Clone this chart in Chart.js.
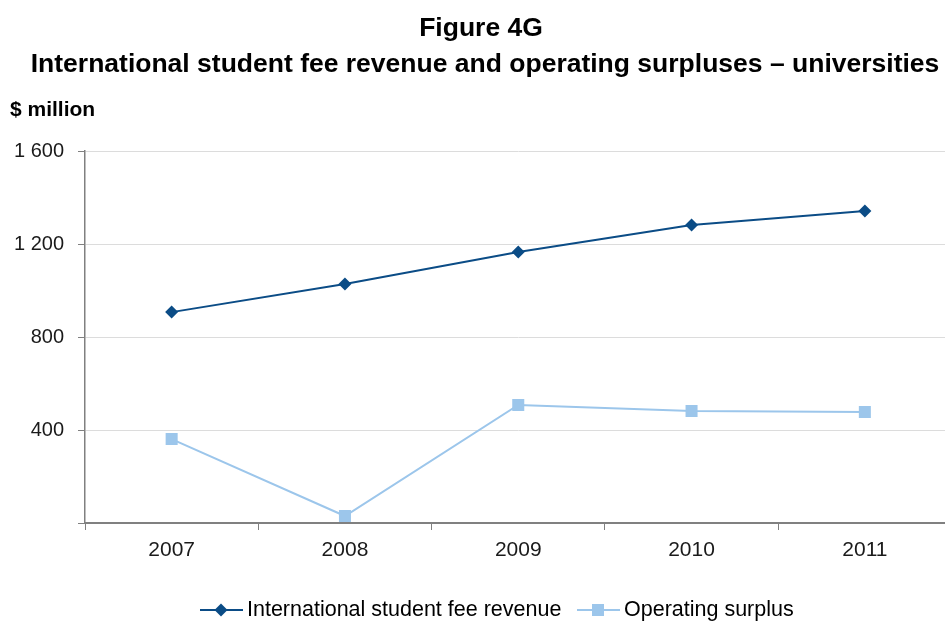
<!DOCTYPE html>
<html>
<head>
<meta charset="utf-8">
<script src="https://cdn.jsdelivr.net/npm/chart.js@4.4.1/dist/chart.umd.min.js"></script>
<style>
    html, body { margin: 0; padding: 0; background: #ffffff; overflow: hidden; }
    #wrap { width: 960px; height: 621px; }
</style>
</head>
<body>
<div id="wrap"><canvas id="myChart" width="960" height="621"></canvas></div>
<script>
const years = ['2007', '2008', '2009', '2010', '2011'];
const feeRevenue = [907, 1028, 1166, 1282, 1342];
const operatingSurplus = [361, 30, 508, 482, 477];
const yTicks = [0, 400, 800, 1200, 1600];

const titleLines = ['Figure 4G', 'International student fee revenue and operating surpluses \u2013 universities'];
const unitLabel = '$ million';
const fontFamily = '"Liberation Sans", Arial, sans-serif';

const darkBlue = '#0b4c86';
const lightBlue = '#9cc6eb';

// titles, unit label and the line+marker legend along the bottom
const headerAndLegend = {
    id: 'headerAndLegend',
    afterDraw(chart) {
        let ctx = chart.ctx;
        ctx.save();
        ctx.fillStyle = '#000000';
        ctx.textAlign = 'center';
        ctx.textBaseline = 'middle';
        ctx.font = `bold 26.5px ${fontFamily}`;
        ctx.fillText(titleLines[0], 481, 29);
        ctx.fillText(titleLines[1], 485, 65);

        ctx.textAlign = 'left';
        ctx.font = `bold 21px ${fontFamily}`;
        ctx.fillText(unitLabel, 10, 110);

        let items = [
            { x: 200, ds: chart.data.datasets[0] },
            { x: 577, ds: chart.data.datasets[1] }
        ];
        let y = 610;
        ctx.font = `21.5px ${fontFamily}`;
        items.forEach(function (item) {
            ctx.strokeStyle = item.ds.borderColor;
            ctx.lineWidth = 2;
            ctx.beginPath();
            ctx.moveTo(item.x, y);
            ctx.lineTo(item.x + 43, y);
            ctx.stroke();
            ctx.fillStyle = item.ds.pointBackgroundColor;
            Chart.helpers.drawPoint(ctx, {
                pointStyle: item.ds.pointStyle,
                radius: item.ds.pointRadius,
                rotation: 0,
                borderWidth: 0
            }, item.x + 21, y);
            ctx.fillStyle = '#000000';
            ctx.fillText(item.ds.label, item.x + 47, y);
        });
        ctx.restore();
    }
};

const ctx = document.getElementById('myChart');
const chart = new Chart(ctx, {
    type: 'line',
    data: {
        labels: years,
        datasets: [{
            label: 'International student fee revenue',
            data: feeRevenue,
            borderColor: darkBlue,
            backgroundColor: darkBlue,
            pointBackgroundColor: darkBlue,
            pointBorderWidth: 0,
            pointStyle: 'rectRot',
            pointRadius: 6.5,
            borderWidth: 2,
            tension: 0
        }, {
            label: 'Operating surplus',
            data: operatingSurplus,
            borderColor: lightBlue,
            backgroundColor: lightBlue,
            pointBackgroundColor: lightBlue,
            pointBorderWidth: 0,
            pointStyle: 'rect',
            pointRadius: 8.5,
            borderWidth: 2,
            tension: 0
        }]
    },
    options: {
        responsive: false,
        animation: false,
        devicePixelRatio: 1,
        layout: { padding: { top: 151, right: 0, left: 0, bottom: 0 } },
        plugins: {
            legend: { display: false },
            title: { display: false },
            tooltip: { enabled: false }
        },
        scales: {
            x: {
                offset: true,
                grid: {
                    offset: true,
                    drawOnChartArea: false,
                    tickLength: 7,
                    color: '#808080'
                },
                border: { color: '#808080', width: 2 },
                ticks: {
                    color: '#1a1a1a',
                    font: { family: fontFamily, size: 21 },
                    padding: 8
                },
                afterFit(scale) { scale.height = 98; }
            },
            y: {
                min: 0,
                max: 1600,
                afterBuildTicks(scale) {
                    scale.ticks = yTicks.map((v) => ({ value: v }));
                },
                grid: {
                    color: '#dcdcdc',
                    tickColor: '#808080',
                    tickLength: 7
                },
                border: { color: '#808080', width: 1.5 },
                ticks: {
                    color: '#1a1a1a',
                    font: { family: fontFamily, size: 20 },
                    padding: 14,
                    callback(value) {
                        if (value === 0) return '';
                        return String(value).replace(/\B(?=(\d{3})+(?!\d))/g, ' ');
                    }
                },
                afterFit(scale) { scale.width = 85; }
            }
        }
    },
    plugins: [headerAndLegend]
});
</script>
</body>
</html>
